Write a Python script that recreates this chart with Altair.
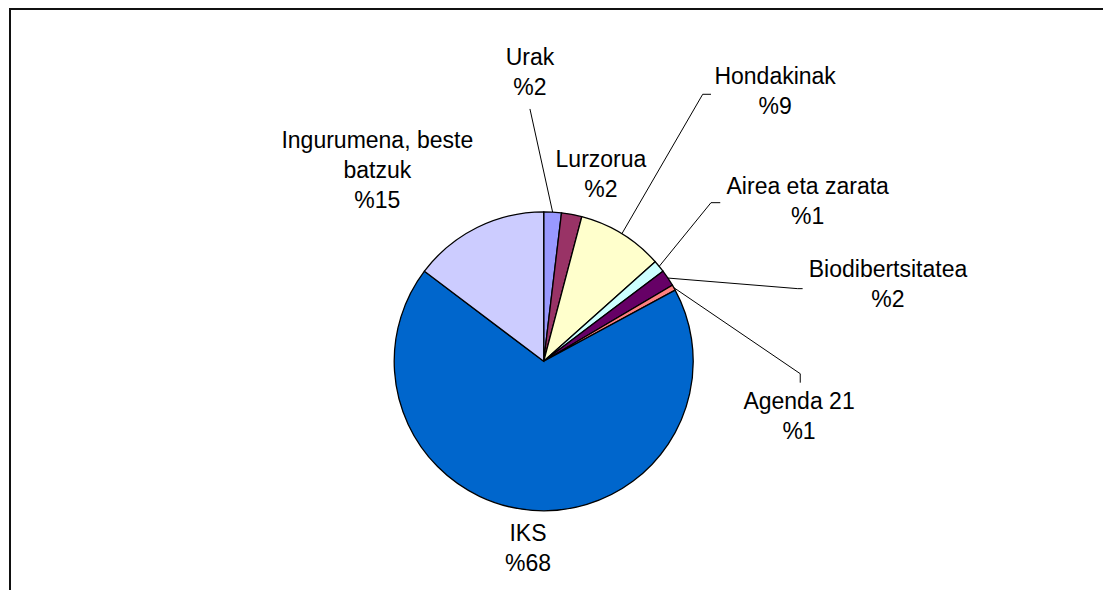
import math
import altair as alt
import pandas as pd

# ---- data -------------------------------------------------------------
names = ["Urak", "Lurzorua", "Hondakinak", "Airea eta zarata",
         "Biodibertsitatea", "Agenda 21", "IKS", "Ingurumena, beste batzuk"]
values = [1.9, 2.2, 9.3, 1.3, 1.8, 0.6, 68.2, 14.7]
pct_labels = ["%2", "%2", "%9", "%1", "%2", "%1", "%68", "%15"]
label_names = ["Urak", "Lurzorua", "Hondakinak", "Airea eta zarata",
               "Biodibertsitatea", "Agenda 21", "IKS", "Ingurumena, beste\nbatzuk"]
colors = ["#9999FF", "#993366", "#FFFFCC", "#CCFFFF",
          "#660066", "#FF8080", "#0066CC", "#CCCCFF"]

# ---- layout (pixels / pie-radius units) ---------------------------------
W, H = 1094, 581
R = 149.5
CX, CY = 534.7, 352.3          # pie centre inside the view, pixels
# position of the first text line of every label
label_u = [-0.092, 0.383, 1.548, 1.766, 2.303, 1.708, -0.105, -1.113]
label_v = [2.031, 1.345, 1.902, 1.169, 0.609, -0.270, -1.157, 1.474]
leader_names = ["Urak", "Hondakinak", "Airea eta zarata", "Biodibertsitatea", "Agenda 21"]
leader_elbow = [(-0.092, 1.688), (1.0635, 1.786), (1.119, 1.061), (1.699, 0.486), (1.716, -0.083)]
leader_end = [(-0.092, 1.688), (1.119, 1.786), (1.181, 1.061), (1.732, 0.486), (1.716, -0.143)]

xs = alt.Scale(domain=[-CX / R, (W - CX) / R], nice=False, zero=False)
ys = alt.Scale(domain=[-(H - CY) / R, CY / R], nice=False, zero=False)

pie_df = pd.DataFrame({"name": names, "value": values, "idx": list(range(len(names)))})

total = sum(values)
mid = {}
cum = 0.0
for n, v in zip(names, values):
    a = (cum + v / 2) / total * 2 * math.pi
    mid[n] = (math.sin(a), math.cos(a))
    cum += v

lab_df = pd.DataFrame({
    "u": label_u, "v": label_v,
    "text": [f"{n}\n{p}" for n, p in zip(label_names, pct_labels)],
})

rows = []
for n, e, f in zip(leader_names, leader_elbow, leader_end):
    s = mid[n]
    for i, (u, v) in enumerate([s, e, f]):
        rows.append({"name": n, "seq": i, "u": u, "v": v})
lead_df = pd.DataFrame(rows)

pie = alt.Chart(pie_df).mark_arc(outerRadius=R, stroke="black", strokeWidth=1.3).encode(
    theta=alt.Theta("value:Q", stack=True),
    order=alt.Order("idx:Q", sort="ascending"),
    color=alt.Color("name:N", scale=alt.Scale(domain=names, range=colors), legend=None),
    x=alt.XDatum(0, type="quantitative", scale=xs, axis=None),
    y=alt.YDatum(0, type="quantitative", scale=ys, axis=None),
)

leaders = alt.Chart(lead_df).mark_line(color="black", strokeWidth=1).encode(
    x=alt.X("u:Q", scale=xs, axis=None),
    y=alt.Y("v:Q", scale=ys, axis=None),
    detail="name:N",
    order="seq:Q",
)

labels = alt.Chart(lab_df).mark_text(
    align="center", baseline="middle", fontSize=23, lineHeight=30,
    lineBreak="\n", font="Liberation Sans", color="black",
).encode(
    x=alt.X("u:Q", scale=xs, axis=None),
    y=alt.Y("v:Q", scale=ys, axis=None),
    text="text:N",
)

frame_df = pd.DataFrame({"k": [0]})
left_edge = alt.Chart(frame_df).mark_rule(color="#111", strokeWidth=2).encode(
    x=alt.value(1), y=alt.value(0), y2=alt.value(H))
top_edge = alt.Chart(frame_df).mark_rule(color="#111", strokeWidth=2).encode(
    x=alt.value(0), x2=alt.value(W), y=alt.value(0))

chart = alt.layer(pie, leaders, labels, left_edge, top_edge).properties(
    width=W, height=H, padding=0, background="white"
).configure_view(strokeWidth=0)

chart.save("out.html", embed_options={"renderer": "svg", "actions": False})
